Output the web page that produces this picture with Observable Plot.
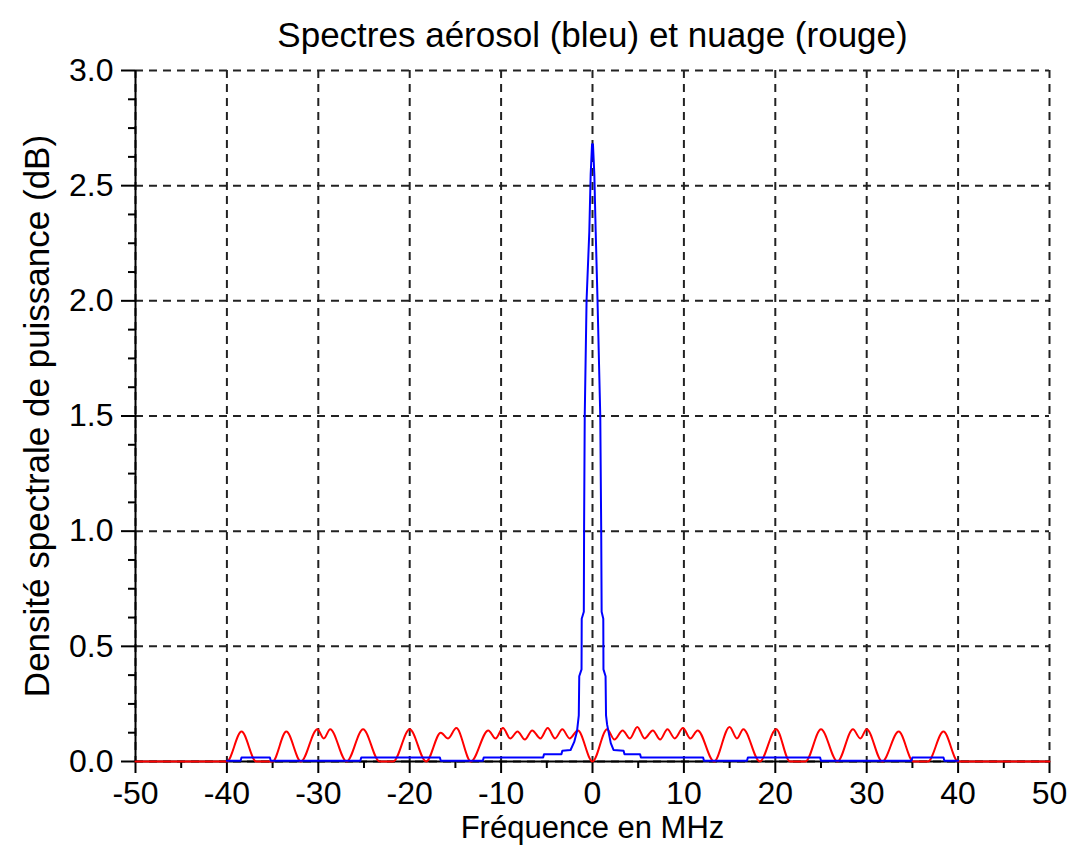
<!DOCTYPE html>
<html><head><meta charset="utf-8">
<script src="https://cdn.jsdelivr.net/npm/d3@7"></script>
<script src="https://cdn.jsdelivr.net/npm/@observablehq/plot@0.6"></script>
<style>body{margin:0;background:#fff}</style>
</head><body><div id="chart"></div>
<script>
const title = "Spectres aérosol (bleu) et nuage (rouge)";
const xLabel = "Fréquence en MHz";
const yLabel = "Densité spectrale de puissance (dB)";

const xTicks = [-50, -40, -30, -20, -10, 0, 10, 20, 30, 40, 50];
const xMinorTicks = [-45, -35, -25, -15, -5, 5, 15, 25, 35, 45];
const yTicks = [0, 0.5, 1.0, 1.5, 2.0, 2.5, 3.0];
const yMinorTicks = [0.125, 0.25, 0.375, 0.625, 0.75, 0.875, 1.125, 1.25, 1.375, 1.625, 1.75, 1.875,
  2.125, 2.25, 2.375, 2.625, 2.75, 2.875];

// Aerosol spectrum (blue)
const blueX = [-40, -38.5, -38.4, -35.3, -35.2, -25.4, -25.3, -16.7, -16.6, -12.0, -11.9, -5.4, -5.3, -3.4, -3.3, -2.4,
  -2.0, -1.7, -1.5, -1.45, -1.2, -1.18, -0.95, -0.92, -0.85, -0.65, -0.35, -0.2, -0.05,
  0.05, 0.2, 0.35, 0.55, 0.85, 0.95, 1.0, 1.18, 1.2, 1.43, 1.48, 1.6, 2.0, 2.3, 3.4, 3.5, 5.2, 5.3,
  12.1, 12.2, 16.9, 17.0, 24.9, 25.0, 34.9, 35.0, 38.4, 38.5, 40];
const blueY = [0.003, 0.003, 0.017, 0.017, 0.003, 0.003, 0.017, 0.017, 0.003, 0.003, 0.017, 0.017, 0.032, 0.032, 0.047, 0.05,
  0.085, 0.13, 0.2, 0.37, 0.4, 0.62, 0.65, 1.02, 1.5, 2.0, 2.3, 2.55, 2.68,
  2.68, 2.55, 2.3, 2.0, 1.5, 1.02, 0.65, 0.62, 0.4, 0.37, 0.2, 0.16, 0.08, 0.05, 0.047, 0.032, 0.032, 0.017,
  0.017, 0.003, 0.003, 0.017, 0.017, 0.003, 0.003, 0.017, 0.017, 0.003, 0.003];

// Cloud spectrum (red)
const redX = [-50, -40, -38.4, -36.8, -35.0, -33.5, -31.9, -30.1, -29.4, -28.7, -26.9, -25.1, -23.3, -21.8, -20.0, -18.2,
  -16.6, -15.8, -14.9, -13.3, -11.4, -10.6, -9.8, -9.0, -8.2, -7.4, -6.6, -5.7, -4.9, -4.1, -3.3, -2.5, -1.6, 0,
  1.6, 2.4, 3.3, 4.1, 4.9, 5.7, 6.6, 7.4, 8.2, 9.0, 9.9, 10.7, 11.5, 13.3, 15.0, 15.8, 16.5, 18.3, 20.1, 21.6, 23.3,
  25.0, 26.8, 28.5, 29.3, 30.0, 31.7, 33.5, 35.1, 36.7, 38.4, 40, 50];
const redY = [0, 0, 0.13, 0, 0, 0.13, 0, 0.14, 0.10, 0.14, 0, 0.14, 0, 0, 0.14, 0,
  0.125, 0.10, 0.145, 0, 0.135, 0.10, 0.145, 0.10, 0.13, 0.095, 0.135, 0.10, 0.145, 0.10, 0.14, 0.10, 0.135, 0,
  0.14, 0.095, 0.135, 0.10, 0.15, 0.10, 0.135, 0.095, 0.14, 0.10, 0.145, 0.10, 0.135, 0, 0.15, 0.10, 0.14, 0, 0.14, 0, 0,
  0.14, 0, 0.14, 0.10, 0.14, 0, 0.13, 0, 0, 0.13, 0, 0];

const blue = blueX.map((x, i) => ({x, y: blueY[i]}));
const red = redX.map((x, i) => ({x, y: redY[i]}));

const FS = 32;
const gridStyle = {stroke: "#222", strokeOpacity: 1, strokeWidth: 2, strokeDasharray: "8,6"};

const chart = Plot.plot({
  width: 1075,
  height: 861,
  marginLeft: 135,
  marginRight: 26,
  marginTop: 70,
  marginBottom: 100,
  x: {domain: [-50, 50]},
  y: {domain: [0, 3]},
  style: {fontFamily: "'Liberation Sans', Arial, sans-serif", fontSize: FS + "px", background: "white", color: "black"},
  marks: [
    Plot.gridX(xTicks, gridStyle),
    Plot.gridY(yTicks, gridStyle),
    Plot.axisX(xMinorTicks, {tickSize: 7, tickFormat: () => "", label: null, strokeWidth: 2}),
    Plot.axisX(xTicks, {tickSize: 12, tickPadding: 8, tickFormat: d => String(d), label: null, strokeWidth: 2, fontSize: FS}),
    Plot.axisY(yMinorTicks, {tickSize: 7, tickFormat: () => "", label: null, strokeWidth: 2}),
    Plot.axisY(yTicks, {tickSize: 14, tickPadding: 8, tickFormat: d3.format(".1f"), label: null, strokeWidth: 2, fontSize: FS}),
    Plot.ruleY([0], {stroke: "black", strokeWidth: 2}),
    Plot.ruleX([-50], {stroke: "black", strokeWidth: 2}),
    Plot.line(red, {x: "x", y: "y", stroke: "#ff0000", strokeWidth: 2, curve: "monotone-x"}),
    Plot.line(blue, {x: "x", y: "y", stroke: "#0000ff", strokeWidth: 2}),
    Plot.text([title], {frameAnchor: "top", dy: -24, lineAnchor: "bottom", textAnchor: "middle", fontSize: 35, fill: "black"}),
    Plot.text([xLabel], {frameAnchor: "bottom", dy: 76, lineAnchor: "bottom", textAnchor: "middle", fontSize: 31, fill: "black"}),
    Plot.text([yLabel], {frameAnchor: "left", dx: -87, rotate: -90, lineAnchor: "bottom", textAnchor: "middle", fontSize: 35, fill: "black"})
  ]
});
document.getElementById("chart").appendChild(chart);
</script>
</body></html>
